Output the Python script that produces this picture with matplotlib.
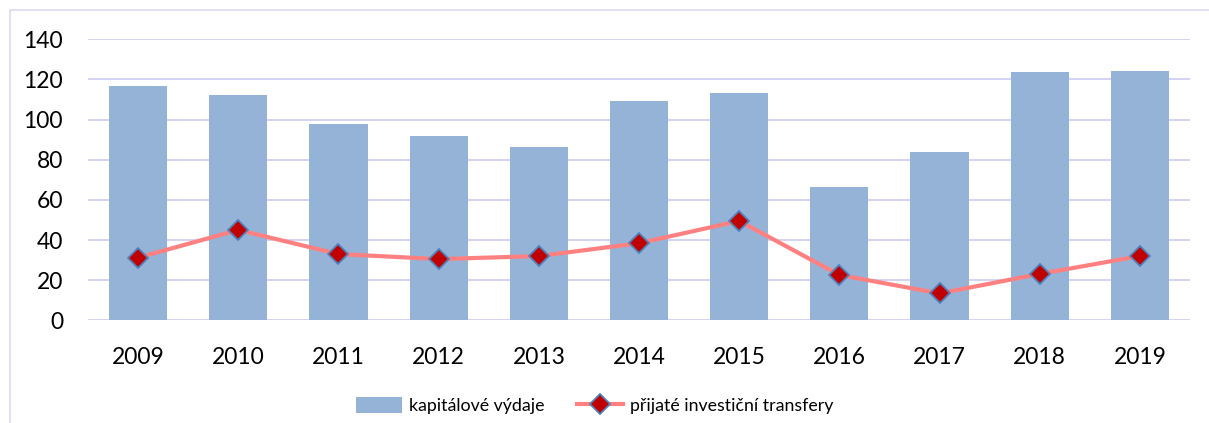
import numpy as np
import matplotlib.pyplot as plt
from matplotlib.patches import Rectangle

# hodnoty
roky = ['2009', '2010', '2011', '2012', '2013', '2014', '2015', '2016', '2017', '2018', '2019']
kapitalove_vydaje = [116.7, 112.3, 97.8, 91.8, 86.3, 109.2, 113.3, 66.4, 83.9, 123.7, 124.2]
investicni_transfery = [31.2, 45.0, 33.0, 30.5, 32.0, 38.4, 49.5, 22.6, 13.4, 23.1, 32.0]

plt.rcParams['font.family'] = ['Lato', 'DejaVu Sans']

fig = plt.figure(figsize=(12.09, 4.23), dpi=100)
ax = fig.add_axes([88 / 1209, 102.7 / 423, 1102 / 1209, 281 / 423])

# rámeček kolem grafu
fig.patches.append(Rectangle((10 / 1209, -0.05), 1.2, 1.05 - 10 / 423, transform=fig.transFigure,
                             fill=False, edgecolor='#D9D9F5', linewidth=1.2))

x = np.arange(len(roky))
sloupce = ax.bar(x, kapitalove_vydaje, width=0.58, color='#95B3D7', label='kapitálové výdaje', zorder=2)
cara, = ax.plot(x, investicni_transfery, color='#FF8080', linewidth=3.0, marker='D', markersize=10,
                markerfacecolor='#C00000', markeredgecolor='#4F81BD', markeredgewidth=1.3,
                label='přijaté investiční transfery', zorder=3)

ax.set_xlim(-0.5, len(roky) - 0.5)
ax.set_ylim(0, 140)
ax.set_yticks(range(0, 141, 20))
ax.set_xticks(x)
ax.set_xticklabels(roky)
ax.grid(axis='y', color='#D0D0F5', linewidth=1.3, zorder=0)
ax.set_axisbelow(True)
for s in ax.spines.values():
    s.set_visible(False)
ax.tick_params(axis='y', length=0, pad=18, labelsize=16.5)
ax.tick_params(axis='x', length=0, pad=19, labelsize=16.5)

ax.legend([sloupce, cara], ['kapitálové výdaje', 'přijaté investiční transfery'],
          loc='upper center', bbox_to_anchor=(0.46, -0.215), ncol=2, frameon=False,
          fontsize=12.8, handlelength=2.6, handleheight=1.0, handletextpad=0.4,
          columnspacing=1.8)

fig.savefig('out.png', dpi=100)
